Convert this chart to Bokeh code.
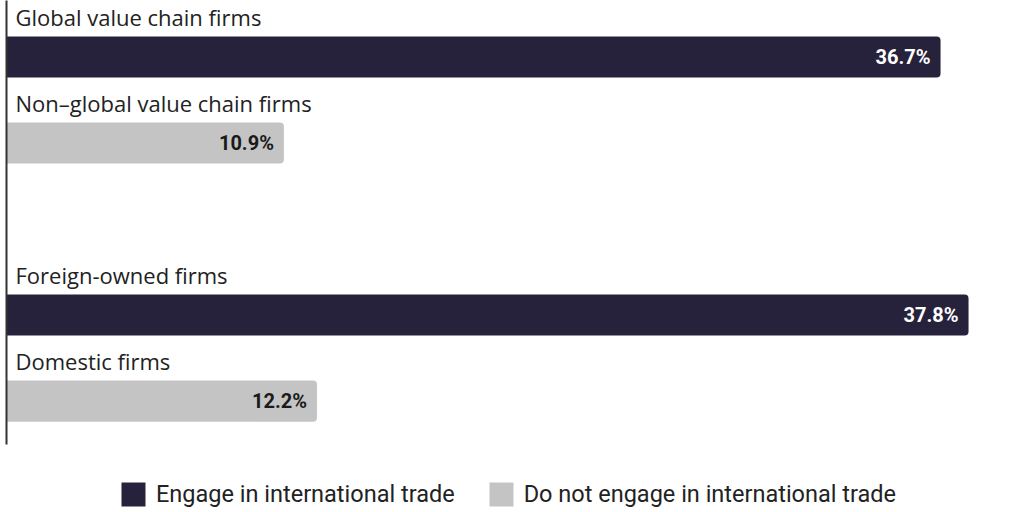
from bokeh.plotting import figure
from bokeh.models import ColumnDataSource, Range1d, LinearAxis, FixedTicker
from bokeh.core.properties import value
from bokeh.embed import file_html
from bokeh.resources import INLINE

categories = ["Global value chain firms", "Non\u2013global value chain firms",
              "Foreign-owned firms", "Domestic firms"]
values = [36.7, 10.9, 37.8, 12.2]
groups = ["Engage in international trade", "Do not engage in international trade",
          "Engage in international trade", "Do not engage in international trade"]
rows = [0, 1, 3, 4]
colors = ["#27223c", "#c4c4c4", "#27223c", "#c4c4c4"]
label_colors = ["#ffffff", "#1a1a1a", "#ffffff", "#1a1a1a"]
value_labels = [f"{v:.1f}%" for v in values]

src = ColumnDataSource(dict(
    cat=categories, val=values, grp=groups, row=rows, col=colors,
    lcol=label_colors, vlab=value_labels,
    lab_y=[r - 0.47 for r in rows],
))

p = figure(width=1008, height=509, output_backend="svg", toolbar_location=None,
           x_range=Range1d(0, 39.37), y_range=Range1d(5.26, -0.657),
           min_border=0, min_border_left=6, min_border_right=0,
           min_border_top=0, min_border_bottom=0, y_axis_location=None,
           x_axis_location=None)
p.outline_line_color = None
p.xgrid.visible = False
p.ygrid.visible = False
p.background_fill_color = "white"
p.border_fill_color = "white"

yax = LinearAxis(bounds=(-0.657, 4.506), ticker=FixedTicker(ticks=[]))
yax.major_tick_line_color = None
yax.minor_tick_line_color = None
yax.major_label_standoff = 0
yax.major_tick_out = 0
yax.major_tick_in = 0
yax.axis_line_color = "#333333"
yax.axis_line_width = 2
p.add_layout(yax, "left")

p.hbar(y="row", left=0, right="val", height=0.477, source=src,
       fill_color="col", line_color=None, border_radius=(0, 4, 4, 0),
       legend_field="grp")

p.text(x="val", y="row", text="vlab", source=src, x_offset=-10,
       text_align="right", text_baseline="middle", text_color="lcol",
       text_font=value("Roboto"), text_font_style="bold", text_font_size="20px")

p.text(x=0, y="lab_y", text="cat", source=src, x_offset=9,
       text_align="left", text_baseline="alphabetic", text_color="#222222",
       text_font=value("Open Sans"), text_font_size="22px")

lg = p.legend[0]
lg.orientation = "horizontal"
lg.location = "bottom"
lg.border_line_color = None
lg.background_fill_alpha = 0
lg.padding = 0
lg.margin = 0
lg.spacing = 31
lg.label_standoff = 8
lg.glyph_width = 30
lg.glyph_height = 30
lg.label_height = 30
lg.label_text_font = "Roboto"
lg.label_text_font_size = "23.5px"
lg.label_text_color = "#222222"
lg.label_text_baseline = "middle"

open("out.html", "w").write(file_html(p, INLINE))
